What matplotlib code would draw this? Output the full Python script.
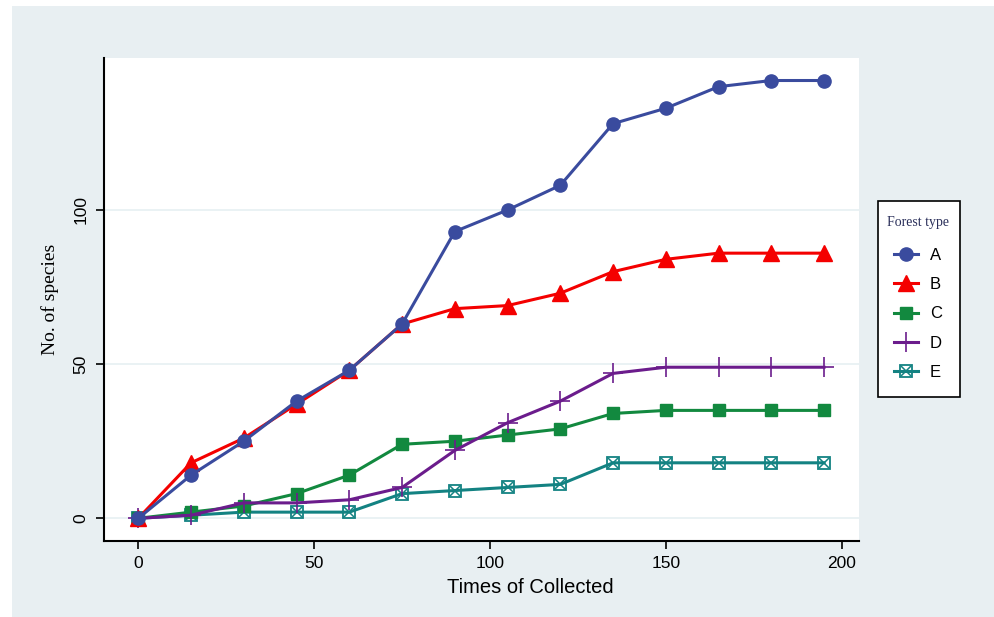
import matplotlib
matplotlib.use("Agg")
import matplotlib.pyplot as plt
from matplotlib.patches import Rectangle

times = [0, 15, 30, 45, 60, 75, 90, 105, 120, 135, 150, 165, 180, 195]
type_a = [0, 14, 25, 38, 48, 63, 93, 100, 108, 128, 133, 140, 142, 142]
type_b = [0, 18, 26, 37, 48, 63, 68, 69, 73, 80, 84, 86, 86, 86]
type_c = [0, 2, 4, 8, 14, 24, 25, 27, 29, 34, 35, 35, 35, 35]
type_d = [0, 1, 5, 5, 6, 10, 22, 31, 38, 47, 49, 49, 49, 49]
type_e = [0, 1, 2, 2, 2, 8, 9, 10, 11, 18, 18, 18, 18, 18]

bg = "#E8EFF2"
sans = "Liberation Sans"
serif = "Liberation Serif"
W, H = 994, 617

fig = plt.figure(figsize=(W / 100, H / 100), dpi=100)
fig.patch.set_facecolor("white")
fig.patches.append(Rectangle((12 / W, 0), 1, 1 - 6 / H, transform=fig.transFigure,
                             facecolor=bg, edgecolor="none", zorder=-10))

ax = fig.add_axes([104 / W, 1 - 540.5 / H, (858.5 - 104) / W, (540.5 - 58) / H])
ax.set_facecolor("white")

lw = 2.2
la, = ax.plot(times, type_a, color="#3A4B9E", lw=lw, marker="o", ms=9.5, label="A", zorder=5)
lb, = ax.plot(times, type_b, color="#F40000", lw=lw, marker="^", ms=11, label="B", zorder=4)
lc, = ax.plot(times, type_c, color="#12893F", lw=lw, marker="s", ms=8.5, label="C", zorder=3)
ld, = ax.plot(times, type_d, color="#6B1C8C", lw=lw, marker="+", ms=14, mew=1.2, label="D", zorder=3)
le, = ax.plot(times, type_e, color="#138282", lw=lw, marker="s", ms=9, mfc="none", mew=1.3, label="E", zorder=2)
le2, = ax.plot(times, type_e, color="#138282", lw=0, marker="x", ms=7, mew=1.1, zorder=2)

ax.set_xlim(-9.75, 204.8)
ax.set_ylim(-7.2, 149.3)
ax.set_xticks([0, 50, 100, 150, 200])
ax.set_yticks([0, 50, 100])
for y in [0, 50, 100]:
    ax.axhline(y, color="#E6F0F2", lw=1.2, zorder=0)

for s in ["top", "right"]:
    ax.spines[s].set_visible(False)
for s in ["left", "bottom"]:
    ax.spines[s].set_linewidth(1.5)
    ax.spines[s].set_color("black")
ax.tick_params(length=6, width=1.2, direction="out", labelsize=12.5, pad=5)
for t in ax.get_xticklabels():
    t.set_fontfamily(sans)
for t in ax.get_yticklabels():
    t.set_fontfamily(sans)
    t.set_rotation(90)
    t.set_va("center")

ax.set_xlabel("Times of Collected", fontsize=14.5, fontfamily=sans)
ax.xaxis.set_label_coords((530 - 104) / 754.5, -0.077)
ax.set_ylabel("No. of species", fontsize=14, fontfamily=serif)
ax.yaxis.set_label_coords(-0.06, 0.5)

# legend box drawn by hand, legend content placed inside it
fig.patches.append(Rectangle((878 / W, 1 - 397 / H), 82 / W, 196 / H, transform=fig.transFigure,
                             facecolor="white", edgecolor="black", lw=1.2, zorder=5))
leg = fig.legend(handles=[la, lb, lc, ld, (le, le2)], labels=["A", "B", "C", "D", "E"],
                 loc="upper center", bbox_to_anchor=(918 / W, 1 - 216 / H),
                 title="Forest type", frameon=False,
                 prop={"family": sans, "size": 12}, handlelength=1.45, labelspacing=0.86,
                 borderpad=0, handletextpad=0.7, borderaxespad=0)
leg.set_zorder(6)
leg._legend_box.sep = 13.5
leg.get_title().set_fontfamily(serif)
leg.get_title().set_fontsize(10)
leg.get_title().set_color("#2A2F5A")

fig.savefig("out.png", dpi=100, facecolor=fig.get_facecolor())
